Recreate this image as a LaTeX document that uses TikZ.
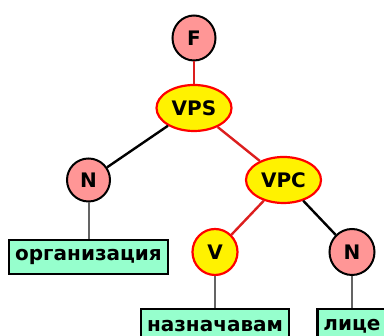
\documentclass[tikz,border=0pt]{standalone}
\usepackage{fontspec}
\newfontfamily\treefont{DejaVu Sans}
\usetikzlibrary{shapes,positioning}
\definecolor{catpink}{RGB}{255,150,150}
\definecolor{wordgreen}{RGB}{150,255,205}
\definecolor{edgered}{RGB}{220,30,30}
\definecolor{edgegray}{RGB}{100,100,100}

\begin{document}
\begin{tikzpicture}[
    x=1pt, y=1pt,
    every node/.style={
        font=\treefont\bfseries\fontsize{20}{22}\selectfont,
        inner sep=0pt
    },
    cat/.style={ellipse, draw=black, line width=2pt, fill=catpink,
        minimum width=43pt, minimum height=43pt},
    phrase/.style={ellipse, draw=red, line width=2.2pt, fill=yellow,
        minimum width=75pt, minimum height=46pt},
    word/.style={rectangle, draw=black, line width=2.2pt, fill=wordgreen,
        anchor=north, minimum height=34pt, inner xsep=6pt},
    level distance=70pt,
    level 2/.style={sibling distance=195pt, level distance=72pt},
    level 3/.style={sibling distance=137pt},
    level 4/.style={level distance=56pt}
]
\useasboundingbox (0,0) rectangle (384,336);
\node[cat, minimum height=45pt] (F) at (194,298) {F}
child{node[phrase] (VPS) {VPS}
        child[xshift=-8pt]{node[cat] (N1) {N}
                child[level distance=59pt]{node[word] (org) {организация}
                        edge from parent[draw=edgegray, line width=2pt]}
                edge from parent[draw=black, line width=2.4pt]}
        child[xshift=-8pt]{node[phrase] (VPC) {VPC}
                child{node[phrase, minimum width=45pt, minimum height=46pt] (V) {V}
                        child{node[word] (naz) {назначавам}
                                edge from parent[draw=edgegray, line width=2pt]}
                        edge from parent[draw=edgered, line width=2.4pt]}
                child{node[cat, minimum width=45pt, minimum height=46pt] (N2) {N}
                        child{node[word] (lice) {лице}
                                edge from parent[draw=edgegray, line width=2pt]}
                        edge from parent[draw=black, line width=2.4pt]}
                edge from parent[draw=edgered, line width=2.4pt]}
        edge from parent[draw=edgered, line width=2.4pt]
};
\end{tikzpicture}
\end{document}
